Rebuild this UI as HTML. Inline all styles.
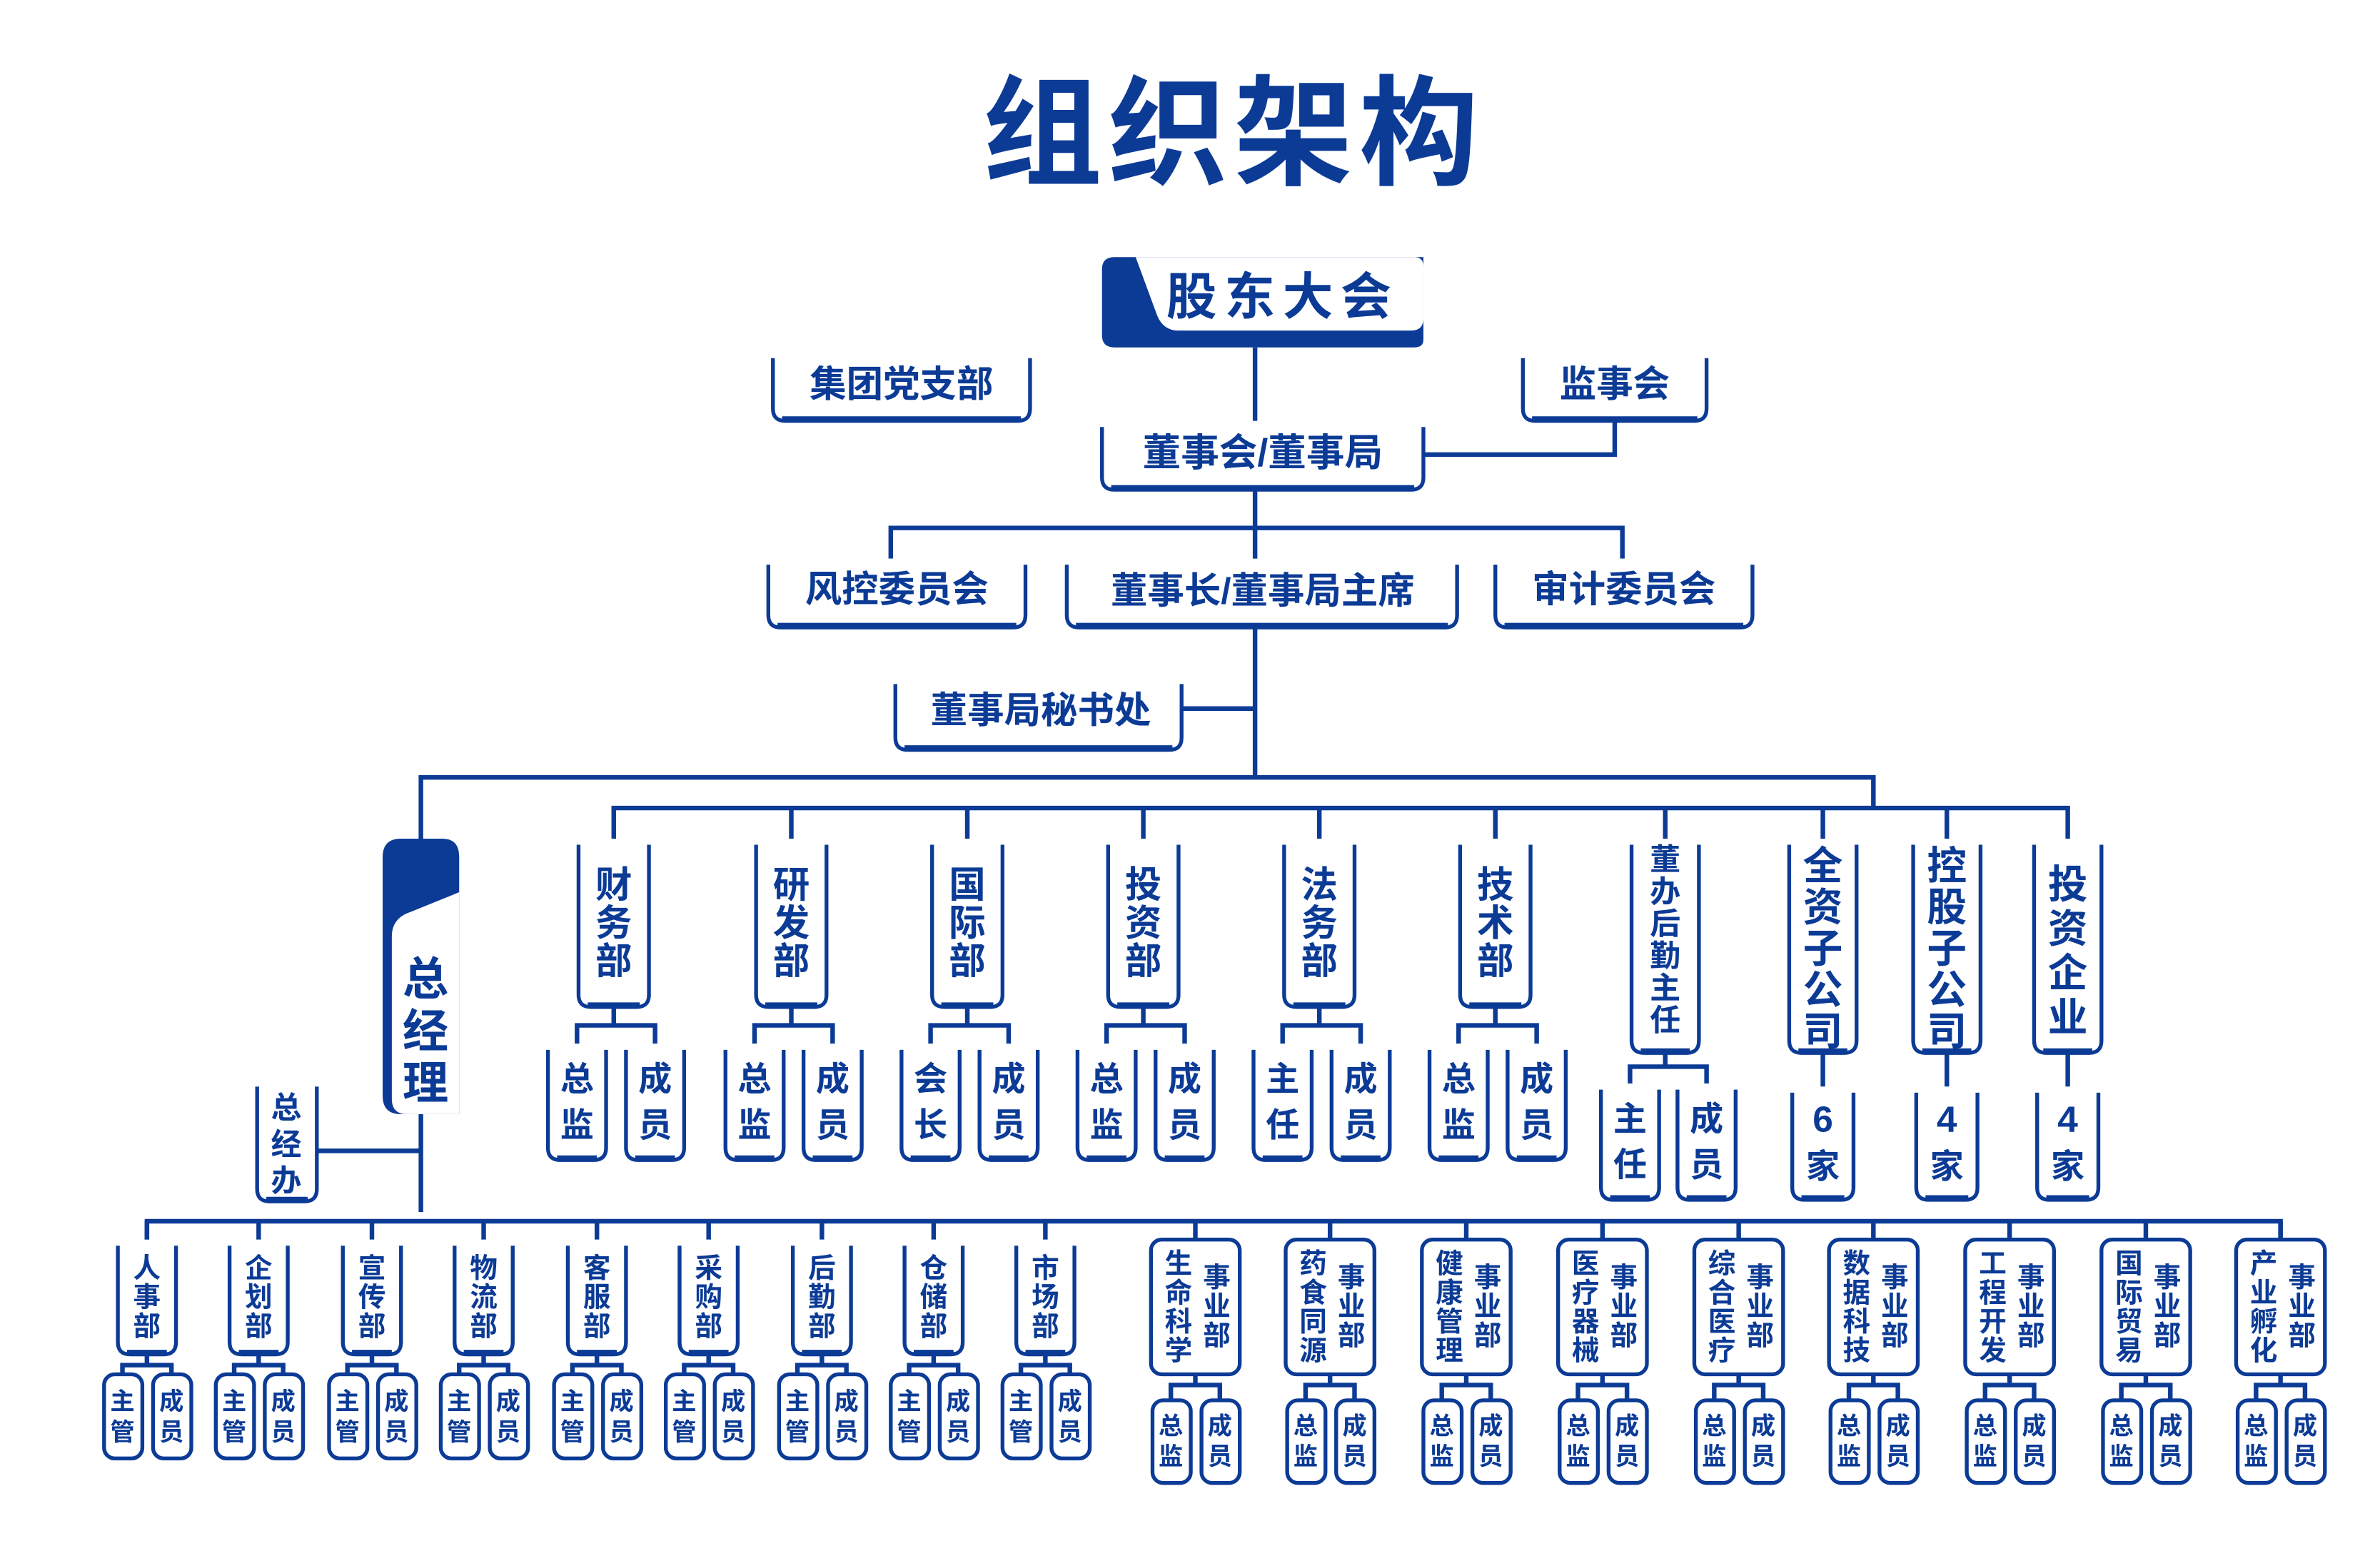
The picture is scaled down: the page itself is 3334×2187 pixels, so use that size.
<!DOCTYPE html>
<html><head><meta charset="utf-8">
<style>
html,body{margin:0;padding:0;background:#fff;}
svg{display:block;}
text{font-family:"Liberation Sans","Noto Sans CJK SC",sans-serif;fill:#0c3b96;font-weight:700;}
</style></head>
<body>
<svg id="s" width="3334" height="2187" viewBox="0 0 1555 1020" preserveAspectRatio="none" xmlns="http://www.w3.org/2000/svg"></svg>
<script>
const C="#0c3b96";let o="";
function L(pts,w){o+=`<polyline points="${pts}" fill="none" stroke="${C}" stroke-width="${w||3}"/>`;}
function T(x,y,t,s,ls){o+=`<text x="${x}" y="${y}" font-size="${s}" text-anchor="middle" dominant-baseline="central"${ls?` letter-spacing="${ls}"`:""}>${t}</text>`;}
function V(cx,y0,chars,s,step){[...chars].forEach((c,i)=>T(cx,y0+i*step,c,s));}
function OB(x,y,w,h){const r=8;
 o+=`<rect x="${x}" y="${y}" width="${w}" height="${h}" rx="${r}" fill="#fff"/>`;
 o+=`<path d="M${x},${y+4} L${x},${y+h-r} Q${x},${y+h} ${x+r},${y+h} L${x+w-r},${y+h} Q${x+w},${y+h} ${x+w},${y+h-r} L${x+w},${y+4}" fill="none" stroke="${C}" stroke-width="2.5"/>`;
 o+=`<path d="M${x+r-2},${y+h-1} L${x+w-r+2},${y+h-1}" stroke="${C}" stroke-width="4"/>`;}
function FB(x,y,w,h){o+=`<rect x="${x}" y="${y}" width="${w}" height="${h}" rx="7" fill="#fff" stroke="${C}" stroke-width="2.5"/>`;}

// title
T(806,88,"组织架构",78,4);
// connectors top
L("820,227 820,508",3);
L("1055,275 1055,297 930,297");
L("582,365 582,345 1060,345 1060,365");
L("772,463 820,463");
L("275,548 275,508 1224,508 1224,528");
L("401,548 401,528 1351,528 1351,548");
[517,632,747,862,977,1088,1191,1272].forEach(x=>L(`${x},528 ${x},548`));
L("275,728 275,792");L("207,752 275,752");

// 股东大会
o+=`<path d="M720,176 Q720,168 728,168 L930,168 L930,222 Q930,227 924,227 L728,227 Q720,227 720,219 Z" fill="${C}"/>`;
o+=`<path d="M742,168 L924,168 Q930,168 930,174 L930,208 Q930,216 922,216 L770,216 Q760,216 756,206 Z" fill="#fff"/>`;
T(838,194,"股东大会",33,5);
OB(505,230,168,45);T(589,251,"集团党支部",24);
OB(995,230,120,45);T(1055,251,"监事会",24);
OB(720,275,210,45);T(825,296,"董事会/董事局",25);
OB(502,365,168,45);T(586,385,"风控委员会",24);
OB(697,365,255,45);T(825,386,"董事长/董事局主席",24);
OB(977,365,168,45);T(1061,385,"审计委员会",24);
OB(585,443,187,47);T(680,464,"董事局秘书处",24);

// 总经理
o+=`<path d="M250,560 Q250,548 262,548 L289,548 Q300,548 300,560 L300,728 L262,728 Q250,728 250,716 Z" fill="${C}"/>`;
o+=`<path d="M300,583 L300,728 L266,728 Q256,728 256,718 L256,612 Q256,600 268,596 Z" fill="#fff"/>`;
V(278,640,"总经理",30,34);
OB(168,706,39,79);V(187,724,"总经办",20,24);

// dept row
const D=[[401,"财务部","总监","成员"],[517,"研发部","总监","成员"],[632,"国际部","会长","成员"],[747,"投资部","总监","成员"],[862,"法务部","主任","成员"],[977,"技术部","总监","成员"]];
D.forEach(([x,n,a,b])=>{OB(x-23,548,46,110);V(x,578,n,24,25);
 L(`${x},658 ${x},670`);L(`${x-24},682 ${x-24},670 ${x+27},670 ${x+27},682`);
 OB(x-43,682,38,76);V(x-24,705,a,22,30);OB(x+8,682,38,76);V(x+27,705,b,22,30);});
OB(1066,548,44,140);V(1088,562,"董办后勤主任",20,21);
L("1088,688 1088,697");L("1065,708 1065,697 1115,697 1115,708");
OB(1046,708,38,76);V(1065,731,"主任",22,30);OB(1096,708,38,76);V(1115,731,"成员",22,30);
[[1191,"全资子公司","6"],[1272,"控股子公司","4"],[1351,"投资企业","4"]].forEach(([x,n,k])=>{
 OB(x-22,548,44,140);V(x,n.length==5?566:578,n,26,n.length==5?27:29);
 L(`${x},688 ${x},710`);OB(x-20,710,40,74);T(x,731,k,24);T(x,762,"家",22);});

// bottom row
L("96,810 96,798 1490,798 1490,810");
const LL=[["人事部",96],["企划部",169],["宣传部",243],["物流部",316],["客服部",390],["采购部",463],["后勤部",537],["仓储部",610],["市场部",683]];
LL.forEach(([n,x])=>{L(`${x},798 ${x},810`);OB(x-19,810,38,75);V(x,829,n,18,19);
 L(`${x},885 ${x},892`);L(`${x-16},898 ${x-16},892 ${x+16},892 ${x+16},898`);
 FB(x-28,898,25,55);V(x-16,916,"主管",16,20);FB(x+4,898,25,55);V(x+16,916,"成员",16,20);});
const R=[["生命科学",781],["药食同源",869],["健康管理",958],["医疗器械",1047],["综合医疗",1136],["数据科技",1224],["工程开发",1313],["国际贸易",1402],["产业孵化",1490]];
R.forEach(([n,x])=>{L(`${x},798 ${x},810`);FB(x-29,810,58,88);V(x-11,826,n,18,19);V(x+14,835,"事业部",18,19);
 L(`${x},898 ${x},905`);L(`${x-16},915 ${x-16},905 ${x+16},905 ${x+16},915`);
 FB(x-28,915,25,54);V(x-16,932,"总监",16,20);FB(x+4,915,25,54);V(x+16,932,"成员",16,20);});

document.getElementById("s").innerHTML=o;
</script>
</body></html>
